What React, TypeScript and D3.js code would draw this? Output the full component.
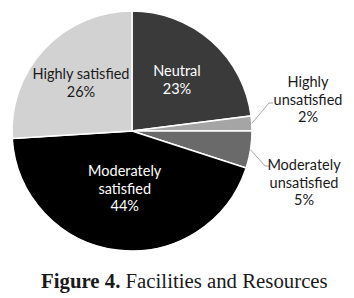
import React from "react";
import * as d3 from "d3";

const categories = ["Neutral", "Highly unsatisfied", "Moderately unsatisfied", "Moderately satisfied", "Highly satisfied"];
const values = [23, 2, 5, 44, 26];
const labelLines = [["Neutral", "23%"], ["Highly", "unsatisfied", "2%"], ["Moderately", "unsatisfied", "5%"], ["Moderately", "satisfied", "44%"], ["Highly satisfied", "26%"]];
const colors = ["#3a3a3a", "#a5a5a5", "#6a6a6a", "#000000", "#d2d2d2"];
const textColors = ["#ffffff", "#1a1a1a", "#1a1a1a", "#ffffff", "#1a1a1a"];
const outside = [false, true, true, false, false];

const W = 354, H = 298;
const cx = 132, cy = 131, R = 120;
const labelFont = "Lato, 'Open Sans', sans-serif";

export default function App() {
  const pie = d3.pie<number>().sort(null).value((d) => d)(values);
  const arc = d3.arc<d3.PieArcDatum<number>>().innerRadius(0).outerRadius(R);
  const lh = 17.5;
  const inR = [68, 0, 0, 58, 70];
  const outPos: Record<number, [number, number]> = { 1: [308, 87], 2: [304, 170] };
  const elbows: Record<number, [number, number, number]> = { 1: [269, 103, 273], 2: [265, 166, 269] };

  return (
    <svg width={W} height={H} style={{ position: "absolute", left: 0, top: 0, background: "#fff" }}>
      <g transform={`translate(${cx},${cy})`}>
        {pie.map((d, i) => (
          <path key={categories[i]} d={arc(d) || ""} fill={colors[i]} stroke="#ffffff" strokeWidth={1.5} />
        ))}
      </g>
      {pie.map((d, i) => {
        const lines = labelLines[i];
        const mid = (d.startAngle + d.endAngle) / 2;
        if (outside[i]) {
          const sx = cx + R * Math.sin(mid);
          const sy = cy - R * Math.cos(mid);
          const [ex, ey, tx] = elbows[i];
          const [lx, ly] = outPos[i];
          return (
            <g key={i}>
              <polyline points={`${sx},${sy} ${ex},${ey} ${tx},${ey}`} fill="none" stroke="#a6a6a6" strokeWidth={1} />
              {lines.map((t, j) => (
                <text key={j} x={lx} y={ly + j * lh} textAnchor="middle" fontFamily={labelFont} fontSize={14.5} fill={textColors[i]}>{t}</text>
              ))}
            </g>
          );
        }
        const px = cx + inR[i] * Math.sin(mid);
        const py = cy - inR[i] * Math.cos(mid);
        const y0 = py - ((lines.length - 1) * lh) / 2 + 5;
        return (
          <g key={i}>
            {lines.map((t, j) => (
              <text key={j} x={px} y={y0 + j * lh} textAnchor="middle" fontFamily={labelFont} fontSize={14.5} fill={textColors[i]}>{t}</text>
            ))}
          </g>
        );
      })}
      <text x={41} y={288} textAnchor="start" fontFamily="'Liberation Serif', 'DejaVu Serif', serif" fontSize={20.8} fill="#1a1a1a">
        <tspan fontWeight="bold">Figure 4.</tspan>
        <tspan> Facilities and Resources</tspan>
      </text>
    </svg>
  );
}
